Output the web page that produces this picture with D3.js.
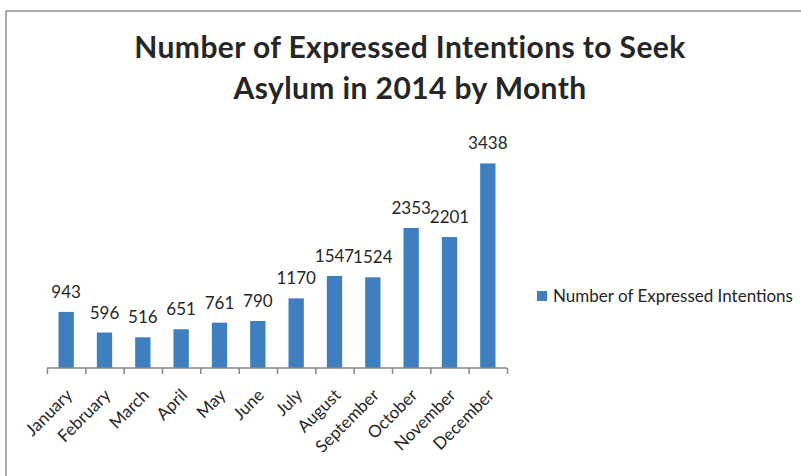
<!DOCTYPE html>
<html>
<head>
<meta charset="utf-8">
<script src="https://cdn.jsdelivr.net/npm/d3@7"></script>
<style>
  html, body { margin: 0; padding: 0; background: #fff; }
  svg { display: block; font-family: Lato, "Open Sans", "DejaVu Sans", sans-serif; }
</style>
</head>
<body>
<svg id="chart" width="801" height="476"></svg>
<script>
// Monthly counts of expressed intentions to seek asylum, 2014
const months = ["January", "February", "March", "April", "May", "June",
                "July", "August", "September", "October", "November", "December"];
const intentions = [943, 596, 516, 651, 761, 790, 1170, 1547, 1524, 2353, 2201, 3438];
const seriesName = "Number of Expressed Intentions";
const titleLines = ["Number of Expressed Intentions to Seek", "Asylum in 2014 by Month"];

const svg = d3.select("#chart");
const barColor = "#3F7FBF";
const axisColor = "#868686";
const textColor = "#262626";

// outer chart frame
svg.append("rect")
  .attr("x", 6).attr("y", 11)
  .attr("width", 820).attr("height", 500)
  .attr("fill", "none")
  .attr("stroke", "#8a9091")
  .attr("stroke-width", 1.5);

// title
svg.append("g").selectAll("text")
  .data(titleLines)
  .join("text")
  .attr("x", 410)
  .attr("y", (d, i) => 58 + i * 41)
  .attr("text-anchor", "middle")
  .attr("font-size", 30)
  .attr("letter-spacing", 0.4)
  .attr("font-weight", "bold")
  .attr("fill", textColor)
  .text(d => d);

const x = d3.scaleBand().domain(months).range([47, 507]).paddingInner(0.6).paddingOuter(0.3);
const y = d3.scaleLinear().domain([0, 4000]).range([368, 130]);

// bars
svg.append("g").selectAll("rect")
  .data(months)
  .join("rect")
  .attr("x", d => x(d))
  .attr("width", x.bandwidth())
  .attr("y", (d, i) => y(intentions[i]))
  .attr("height", (d, i) => y(0) - y(intentions[i]))
  .attr("fill", barColor);

// value labels
svg.append("g").selectAll("text")
  .data(months)
  .join("text")
  .attr("x", d => x(d) + x.bandwidth() / 2)
  .attr("y", (d, i) => y(intentions[i]) - 14)
  .attr("text-anchor", "middle")
  .attr("font-size", 17)
  .attr("fill", textColor)
  .text((d, i) => intentions[i]);

// category axis
const axis = d3.axisBottom(d3.scaleLinear().domain([0, months.length]).range([47, 507]))
  .tickValues(d3.range(months.length + 1))
  .tickSize(6)
  .tickFormat("");
const gAxis = svg.append("g").attr("transform", "translate(0,368)").call(axis);
gAxis.select(".domain").attr("stroke", axisColor).attr("stroke-width", 1.5).attr("d", "M47,0H507");
gAxis.selectAll(".tick line").attr("stroke", axisColor).attr("stroke-width", 1.5);

// rotated month labels
svg.append("g").selectAll("text")
  .data(months)
  .join("text")
  .attr("transform", d => `translate(${x(d) + x.bandwidth() / 2 + 3},${392}) rotate(-45)`)
  .attr("text-anchor", "end")
  .attr("dy", "0.35em")
  .attr("font-size", 17)
  .attr("fill", textColor)
  .text(d => d);

// legend
const legend = svg.append("g").attr("transform", "translate(537,291)");
legend.append("rect").attr("width", 10).attr("height", 10).attr("fill", barColor);
legend.append("text")
  .attr("x", 16).attr("y", 10.5)
  .attr("font-size", 17)
  .attr("fill", textColor)
  .text(seriesName);
</script>
</body>
</html>
